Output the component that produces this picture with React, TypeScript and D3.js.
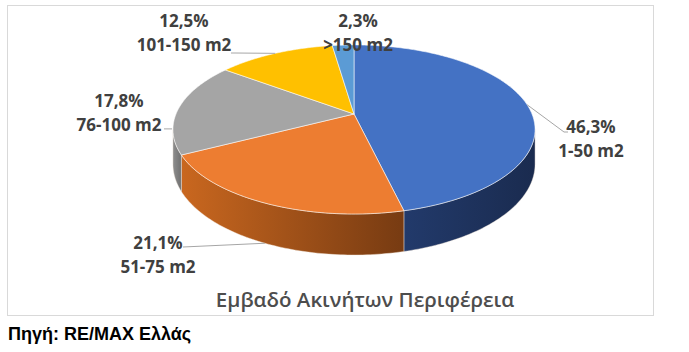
import React from 'react';
import * as d3 from 'd3';

// Data
const categories = ['1-50 m2', '51-75 m2', '76-100 m2', '101-150 m2', '>150 m2'];
const shares = [46.3, 21.1, 17.8, 12.5, 2.3];
const title = 'Εμβαδό Ακινήτων Περιφέρεια';
const source = 'Πηγή: RE/MAX Ελλάς';

// Styles
const topColors = ['#4472C4', '#ED7D31', '#A5A5A5', '#FFC000', '#5B9BD5'];
const sideColors: [string, string][] = [
  ['#223a6b', '#1a2b4f'],
  ['#c9671f', '#773b12'],
  ['#8e8e8e', '#707070'],
  ['#c79600', '#a37b00'],
  ['#47799f', '#385f7d'],
];

// Label layout (centre of the two text lines) and leader mode
const labelPos = [
  { x: 591, y: 127, leader: 'mid' },
  { x: 158, y: 243, leader: 'bottom' },
  { x: 119, y: 101, leader: 'left' },
  { x: 184, y: 21, leader: 'mid' },
  { x: 358, y: 21, leader: 'none' },
];

// Pie geometry (perspective projection of a disc)
const W = 689;
const H = 352;
const CX = 354;
const CY = 114;
const SX = 178;
const SY = 81.7;
const K = 0.183;
const DEPTH = 33.5;

const proj = (phi: number, drop = 0): [number, number] => {
  const u = Math.sin(phi);
  const v = -Math.cos(phi);
  const w = 1 - K * v;
  return [CX + (SX * u) / w, CY + (SY * v) / w + drop / w];
};

const arcPts = (a: number, b: number, drop = 0) => {
  const n = Math.max(2, Math.ceil(((b - a) * 180) / Math.PI));
  return d3.range(n + 1).map(i => proj(a + ((b - a) * i) / n, drop));
};

const PHI_L = Math.acos(-K);
const PHI_R = 2 * Math.PI - PHI_L;

const fmt = (v: number) => `${v.toFixed(1).replace('.', ',')}%`;

export default function App() {
  const pie = d3.pie<number>().sort(null).value(d => d)(shares);
  const line = d3.line();
  const labelFont = "'Open Sans', sans-serif";

  const sides = pie
    .map((s, i) => {
      const a = Math.max(s.startAngle, PHI_L);
      const b = Math.min(s.endAngle, PHI_R);
      if (b <= a) return null;
      const top = arcPts(a, b);
      const bottom = arcPts(a, b, DEPTH).reverse();
      const xs = [...top, ...bottom].map(p => p[0]);
      return { i, d: line([...top, ...bottom]) + 'Z', x0: d3.min(xs)!, x1: d3.max(xs)! };
    })
    .filter(Boolean) as { i: number; d: string; x0: number; x1: number }[];

  const tops = pie.map((s, i) => ({
    i,
    d: line([[CX, CY], ...arcPts(s.startAngle, s.endAngle)]) + 'Z',
  }));

  const leaders = pie.map((s, i) => {
    const lp = labelPos[i];
    const mid = (s.startAngle + s.endAngle) / 2;
    if (lp.leader === 'none') return null;
    if (lp.leader === 'mid') {
      const p = proj(mid);
      const right = p[0] > CX;
      const ex = right ? lp.x - 27 : lp.x + 51;
      const ey = right ? lp.y + 5 : lp.y + 32;
      return line([p, [ex, ey], [right ? ex + 4 : ex - 4, ey]]);
    }
    if (lp.leader === 'bottom') {
      const p = proj(mid, DEPTH);
      return line([p, [lp.x + 25, lp.y + 4]]);
    }
    const p = proj(PHI_R + 0.03);
    return line([[lp.x + 45, p[1] + 2], [p[0] - 1, p[1] + 2]]);
  });

  return (
    <svg width={W} height={H} style={{ position: 'absolute', left: 0, top: 0, background: '#fff' }}>
      <defs>
        {sides.map(s => (
          <linearGradient key={s.i} id={`side${s.i}`} gradientUnits="userSpaceOnUse" x1={s.x0} x2={s.x1} y1={0} y2={0}>
            <stop offset="0%" stopColor={sideColors[s.i][0]} />
            <stop offset="100%" stopColor={sideColors[s.i][1]} />
          </linearGradient>
        ))}
      </defs>
      <rect x={7.5} y={5.5} width={646} height={310} fill="#fff" stroke="#d9d9d9" />

      {sides.map(s => (
        <path key={s.i} d={s.d} fill={`url(#side${s.i})`} stroke="#f2e6dc" strokeWidth={0.6} strokeOpacity={0.7} />
      ))}
      {tops.map(t => (
        <path key={t.i} d={t.d} fill={topColors[t.i]} stroke="#ffffff" strokeWidth={0.7} strokeOpacity={0.8} />
      ))}

      {leaders.map((d, i) => d && <path key={i} d={d} fill="none" stroke="#a6a6a6" strokeWidth={1} />)}

      {pie.map((s, i) => (
        <text
          key={i}
          x={labelPos[i].x}
          textAnchor="middle"
          fontFamily={labelFont}
          fontWeight={700}
          fontSize={17}
          fill="#404040"
        >
          <tspan x={labelPos[i].x} y={labelPos[i].y + 6}>{fmt(s.data)}</tspan>
          <tspan x={labelPos[i].x} y={labelPos[i].y + 30}>{categories[i]}</tspan>
        </text>
      ))}

      <text x={365} y={307} textAnchor="middle" fontFamily={labelFont} fontWeight={600} fontSize={20.5} fill="#4d4d4d">
        {title}
      </text>
      <text x={8} y={340} fontFamily="'Liberation Sans', Arial, sans-serif" fontWeight={700} fontSize={18} fill="#000">
        {source}
      </text>
    </svg>
  );
}
